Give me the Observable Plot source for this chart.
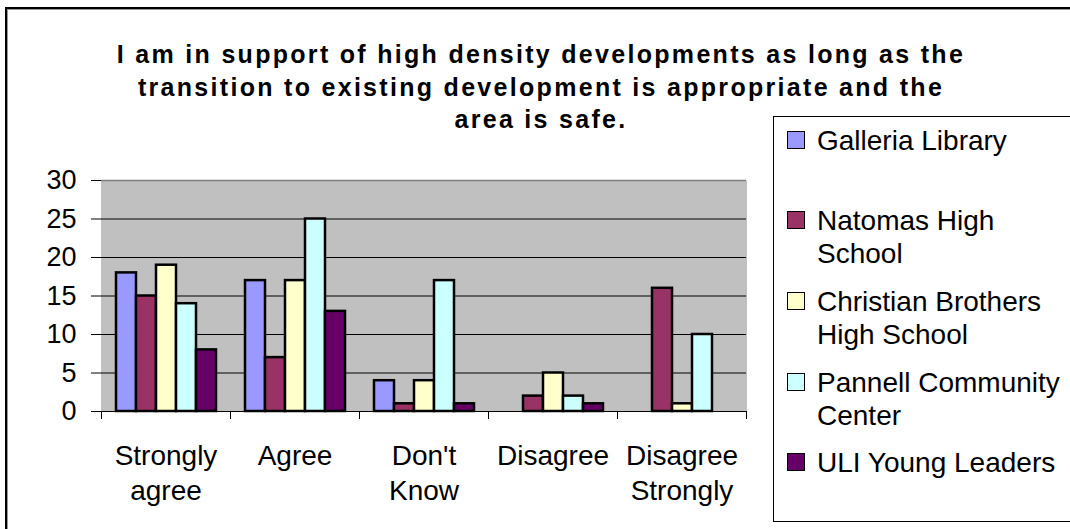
<!DOCTYPE html>
<html><head><meta charset="utf-8">
<script src="https://cdn.jsdelivr.net/npm/d3@7"></script>
<script src="https://cdn.jsdelivr.net/npm/@observablehq/plot@0.6"></script>
<style>
body{margin:0;background:#fff;}
#wrap{position:relative;width:1070px;height:529px;overflow:hidden;font-family:"Liberation Sans",Arial,sans-serif;color:#000;background:#fff;}
#border{position:absolute;left:5px;top:7px;width:1200px;height:700px;border:2px solid #000;box-shadow:inset 1px 1px 0 #999;}
#title{position:absolute;left:100px;width:882px;top:38px;text-align:center;font-weight:bold;font-size:25px;letter-spacing:2.3px;line-height:32.5px;}
#chart{position:absolute;left:0;top:170px;}
#legend{position:absolute;left:773px;top:116px;width:400px;height:404px;border:1px solid #000;background:#fff;}
.sw{position:absolute;left:13px;width:16px;height:16px;border:1.5px solid #000;}
.lab{position:absolute;left:43px;font-size:28px;line-height:33px;white-space:nowrap;}
</style></head>
<body>
<div id="wrap">
  <div id="border"></div>
  <div id="title"></div>
  <div id="chart"></div>
  <div id="legend"></div>
</div>
<script>
const titleLines = [
  "I am in support of high density developments as long as the",
  "transition to existing development is appropriate and the",
  "area is safe."
];
const categories = ["Strongly agree", "Agree", "Don't Know", "Disagree", "Disagree Strongly"];
const tickLabels = ["Strongly\nagree", "Agree", "Don't\nKnow", "Disagree", "Disagree\nStrongly"];
const series = ["Galleria Library", "Natomas High School", "Christian Brothers High School", "Pannell Community Center", "ULI Young Leaders"];
const legendLabels = [["Galleria Library"], ["Natomas High", "School"], ["Christian Brothers", "High School"], ["Pannell Community", "Center"], ["ULI Young Leaders"]];
const colors = ["#9999FF", "#993366", "#FFFFCC", "#CCFFFF", "#660066"];
const galleria = [18, 17, 4, 0, 0];
const natomas = [15, 7, 1, 2, 16];
const christian = [19, 17, 4, 5, 1];
const pannell = [14, 25, 17, 2, 10];
const uli = [8, 13, 1, 1, 0];
const yTicks = [0, 5, 10, 15, 20, 25, 30];
const gridTicks = [5, 10, 15, 20, 25];

const seriesValues = [galleria, natomas, christian, pannell, uli];
const rows = [];
categories.forEach((c, ci) => series.forEach((s, si) => rows.push({cat: c, series: s, value: seriesValues[si][ci]})));

document.getElementById("title").innerHTML = titleLines.join("<br>");

const chart = Plot.plot({
  width: 770, height: 359,
  marginLeft: 100, marginRight: 24, marginTop: 10, marginBottom: 118,
  style: {background: "transparent", fontFamily: "'Liberation Sans', Arial, sans-serif", color: "#000", overflow: "visible"},
  fx: {domain: categories, padding: 0, label: null},
  x: {domain: series, paddingInner: 0, paddingOuter: 0.65, axis: null},
  y: {domain: [0, 30], axis: null},
  color: {domain: series, range: colors},
  marks: [
    Plot.frame({fill: "#c0c0c0", stroke: "none", insetLeft: -0.5, insetRight: -0.5}),
    Plot.ruleY(gridTicks, {stroke: "#000", strokeWidth: 1}),
    Plot.ruleY([30], {stroke: "#808080", strokeWidth: 1.5}),
    Plot.frame({anchor: "left", insetTop: 231, insetBottom: -7, stroke: "#000"}),
    Plot.frame({anchor: "right", insetTop: 231, insetBottom: -7, stroke: "#000"}),
    Plot.barY(rows, {fx: "cat", x: "series", y: "value", fill: "series", stroke: "#000", strokeWidth: 2.5, filter: d => d.value > 0}),
    Plot.ruleY([0], {stroke: "#000", strokeWidth: 1}),
    Plot.axisY({ticks: yTicks, tickSize: 10, tickPadding: 15, fontSize: 27, line: true, stroke: "#000", label: null}),
    Plot.axisY({anchor: "right", ticks: [0], tickSize: 0, tickFormat: () => "", line: true, stroke: "#808080", label: null}),
    Plot.axisFx({anchor: "bottom", tickSize: 0, tickPadding: 29, fontSize: 28, lineHeight: 1.25, label: null, tickFormat: d => tickLabels[categories.indexOf(d)]})
  ]
});
document.getElementById("chart").appendChild(chart);

const legend = document.getElementById("legend");
series.forEach((s, i) => {
  const center = 23 + i * 80.7;
  const sw = document.createElement("div");
  sw.className = "sw";
  sw.style.top = (center - 9.5) + "px";
  sw.style.background = colors[i];
  legend.appendChild(sw);
  const lab = document.createElement("div");
  lab.className = "lab";
  lab.style.top = (center - 16.5) + "px";
  lab.innerHTML = legendLabels[i].join("<br>");
  legend.appendChild(lab);
});
</script>
</body></html>
